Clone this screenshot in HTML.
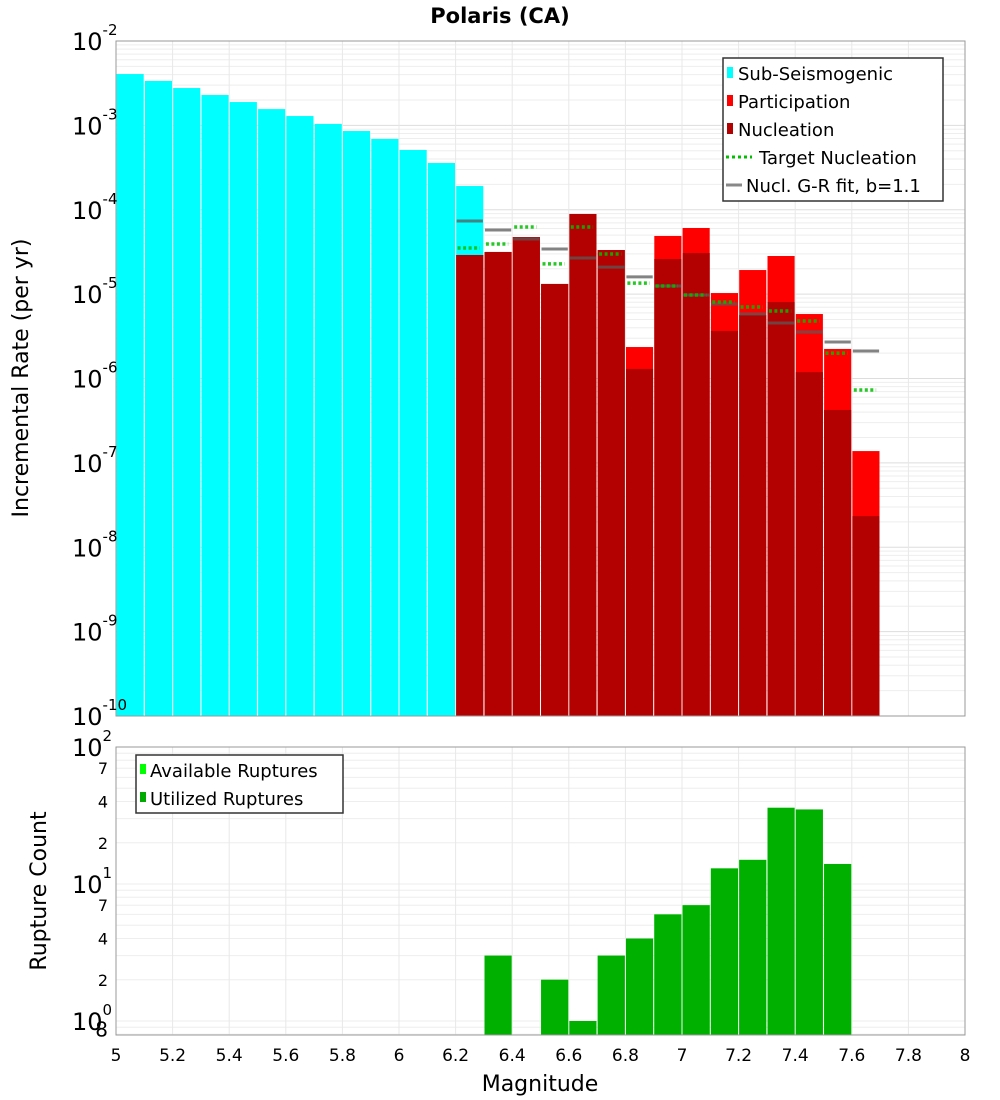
<!DOCTYPE html>
<html><head><meta charset="utf-8"><style>
body{margin:0;background:#fff;}
svg{display:block;font-family:"DejaVu Sans","Liberation Sans",sans-serif;}
</style></head><body>
<svg id="chart" width="1000" height="1100" viewBox="0 0 1000 1100">
<text x="500" y="23" text-anchor="middle" font-size="21" font-weight="bold">Polaris (CA)</text>
<g id="top-grid"></g>
<g id="bot-grid"></g>
<g id="top-marks"></g>
<g id="bot-marks"></g>
<rect x="116" y="41" width="849" height="675" fill="none" stroke="#999"/>
<rect x="116" y="747" width="849" height="288" fill="none" stroke="#999"/>
<g id="axes-labels"></g>
<text x="28" y="378" font-size="22" text-anchor="middle" transform="rotate(-90 28 378)">Incremental Rate (per yr)</text>
<text x="46" y="891" font-size="22" text-anchor="middle" transform="rotate(-90 46 891)">Rupture Count</text>
<text x="540" y="1091" font-size="22" text-anchor="middle">Magnitude</text>
<g>
<rect x="723" y="58" width="220" height="143" fill="#fff" stroke="#333" stroke-width="1.5"/>
<rect x="727" y="67" width="6" height="11" fill="#00ffff"/><text x="738" y="80" font-size="18">Sub-Seismogenic</text>
<rect x="727" y="95" width="6" height="11" fill="#ff0000"/><text x="738" y="108" font-size="18">Participation</text>
<rect x="727" y="123" width="6" height="11" fill="#b30000"/><text x="738" y="136" font-size="18">Nucleation</text>
<line x1="726" y1="157" x2="752" y2="157" stroke="#00c000" stroke-width="3" stroke-dasharray="3,3"/><text x="759" y="164" font-size="18">Target Nucleation</text>
<line x1="726" y1="185" x2="742" y2="185" stroke="#888" stroke-width="3"/><text x="746" y="192" font-size="18">Nucl. G-R fit, b=1.1</text>
</g>
<g>
<rect x="136" y="755" width="207" height="58" fill="#fff" stroke="#333" stroke-width="1.5"/>
<rect x="140" y="764" width="6" height="10" fill="#00ff00"/><text x="150" y="777" font-size="18">Available Ruptures</text>
<rect x="140" y="792" width="6" height="10" fill="#00aa00"/><text x="150" y="805" font-size="18">Utilized Ruptures</text>
</g>
</svg>
<script>
// ---- data ----
const subMags = [5.0,5.1,5.2,5.3,5.4,5.5,5.6,5.7,5.8,5.9,6.0,6.1,6.2];
const subRates = [4.06e-3,3.36e-3,2.77e-3,2.29e-3,1.89e-3,1.56e-3,1.29e-3,1.04e-3,8.57e-4,6.90e-4,5.11e-4,3.58e-4,1.91e-4];
const supMags = [6.2,6.3,6.4,6.5,6.6,6.7,6.8,6.9,7.0,7.1,7.2,7.3,7.4,7.5,7.6];
const participation = [2.91e-5,3.16e-5,4.75e-5,1.32e-5,8.91e-5,3.33e-5,2.36e-6,4.89e-5,6.08e-5,1.03e-5,1.93e-5,2.83e-5,5.81e-6,2.24e-6,1.38e-7];
const nucleation = [2.91e-5,3.16e-5,4.75e-5,1.32e-5,8.91e-5,3.33e-5,1.30e-6,2.61e-5,3.07e-5,3.66e-6,5.66e-6,8.07e-6,1.19e-6,4.24e-7,2.34e-8];
const targetNucl = [3.52e-5,3.93e-5,6.25e-5,2.28e-5,6.25e-5,2.99e-5,1.35e-5,1.25e-5,9.77e-6,8.07e-6,7.03e-6,6.31e-6,4.80e-6,2.00e-6,7.31e-7];
const grFit = [7.36e-5,5.75e-5,4.50e-5,3.43e-5,2.68e-5,2.09e-5,1.60e-5,1.25e-5,9.77e-6,7.64e-6,5.81e-6,4.55e-6,3.56e-6,2.71e-6,2.12e-6];
const countMags = [6.3,6.5,6.6,6.7,6.8,6.9,7.0,7.1,7.2,7.3,7.4,7.5];
const availableCounts = [3,2,1,3,4,6,7,13,15,36,35,14];
const utilizedCounts = [3,2,1,3,4,6,7,13,15,36,35,14];
const xTicks = [5,5.2,5.4,5.6,5.8,6,6.2,6.4,6.6,6.8,7,7.2,7.4,7.6,7.8,8];
const topExps = [-2,-3,-4,-5,-6,-7,-8,-9,-10];
const botMajor = [2,1,0];
const botMinor = [7,4,2];

// ---- scales ----
const NS='http://www.w3.org/2000/svg';
const X0=116,X1=965;
const xS = m => X0 + (m-5)/3*(X1-X0);
const yTop = v => 41 + (-2-Math.log10(v))*(675/8);
const yBot = v => 747 + (2-Math.log10(v))*137;
const BW=0.1, GAP=1.2;
function mk(tag, attrs, parent){const e=document.createElementNS(NS,tag);for(const k in attrs)e.setAttribute(k,attrs[k]);parent.appendChild(e);return e;}
const tg=document.getElementById('top-grid'), bg=document.getElementById('bot-grid');
const tm=document.getElementById('top-marks'), bm=document.getElementById('bot-marks');
const al=document.getElementById('axes-labels');

// grids
for(let e=-10;e<-2;e++){for(let k=1;k<=9;k++){const y=yTop(k*Math.pow(10,e));
 const l=mk('line',{x1:X0,x2:X1,y1:y,y2:y,stroke:k==1?'#ddd':'#eee','stroke-width':1},tg);
 
 }}
for(let e=-1;e<2;e++){for(let k=1;k<=9;k++){const v=k*Math.pow(10,e);const y=yBot(v);if(y<747||y>1035)continue;
 const l=mk('line',{x1:X0,x2:X1,y1:y,y2:y,stroke:'#eee','stroke-width':1},bg);
 
 }}
xTicks.forEach(t=>{const x=xS(t);
 const a=mk('line',{x1:x,x2:x,y1:41,y2:716,stroke:'#e8e8e8'},tg);
 
 
 const b=mk('line',{x1:x,x2:x,y1:747,y2:1035,stroke:'#e8e8e8'},bg);
 
 
 const tx=mk('text',{x:x,y:1061,'font-size':17,'text-anchor':'middle'},al);
 tx.textContent=String(t);
 
 
});

// top y labels
topExps.forEach(e=>{const y=yTop(Math.pow(10,e));
 const t=mk('text',{x:72,y:y+9,'font-size':24},al);
 
 
 t.appendChild(document.createTextNode('10'));
 const s=mk('tspan',{dy:-15,'font-size':15},t); s.textContent=String(e);
});
botMajor.forEach(e=>{const y=yBot(Math.pow(10,e));
 const t=mk('text',{x:72,y:y+9,'font-size':24},al);
 
 
 t.appendChild(document.createTextNode('10'));
 const s=mk('tspan',{dy:-15,'font-size':15},t); s.textContent=String(e);
});
[1,0].forEach(e=>botMinor.forEach(k=>{const y=yBot(k*Math.pow(10,e));
 const t=mk('text',{x:108,y:y+6,'font-size':16,'text-anchor':'end'},al);
 t.textContent=String(k);
 
 
}));
{const t=mk('text',{x:108,y:yBot(0.8)+2,'font-size':20,'text-anchor':'end'},al);t.textContent='8';
 
 }

// top bars
function bar(m,v,fill,parent,yf,base,name){const x=xS(m)+GAP/2, w=xS(m+BW)-xS(m)-GAP, y=Math.max(yf(v), parent===tm?41:747);
 const r=mk('rect',{x:x,y:y,width:w,height:base-y,fill:fill},parent);
 
 }
subMags.forEach((m,i)=>bar(m,subRates[i],'#00ffff',tm,yTop,716,'sub-seismogenic-bar'));
supMags.forEach((m,i)=>bar(m,participation[i],'#ff0000',tm,yTop,716,'participation-bar'));
supMags.forEach((m,i)=>bar(m,nucleation[i],'#b30000',tm,yTop,716,'nucleation-bar'));
supMags.forEach((m,i)=>{const y=yTop(grFit[i]);
 const l=mk('line',{x1:xS(m)+1,x2:xS(m+BW)-1,y1:y,y2:y,stroke:'rgba(90,90,90,0.75)','stroke-width':3},tm);
 
 });
supMags.forEach((m,i)=>{const y=yTop(targetNucl[i]);
 const l=mk('line',{x1:xS(m)+2,x2:xS(m+BW)-4,y1:y,y2:y,stroke:'rgba(0,190,0,0.85)','stroke-width':3.5,'stroke-dasharray':'3,2.5'},tm);
 
 });

// bottom bars
countMags.forEach((m,i)=>bar(m,availableCounts[i],'#00ff00',bm,yBot,1035,'available-ruptures-bar'));
countMags.forEach((m,i)=>bar(m,utilizedCounts[i],'#00b000',bm,yBot,1035,'utilized-ruptures-bar'));
</script>
</body></html>
